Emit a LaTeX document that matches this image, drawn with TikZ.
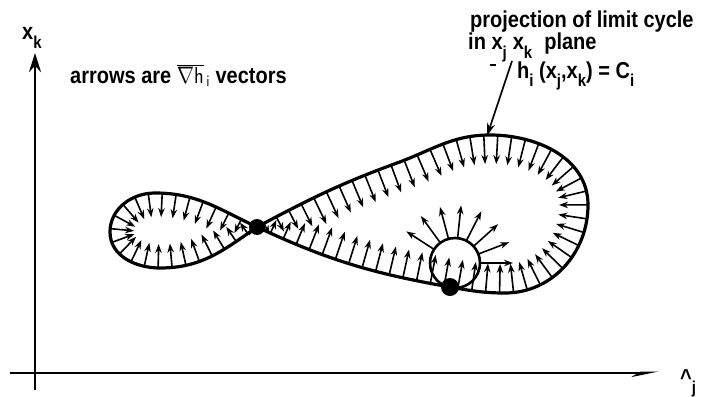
\documentclass[tikz,border=0pt]{standalone}
\usepackage{fontspec}
\setmainfont{Liberation Sans}
\usetikzlibrary{arrows.meta,decorations.markings}
\newcommand\lowidx[1]{\raisebox{-7pt}{\fontsize{15}{15}\selectfont #1}}
\newcommand\tall[1]{\scalebox{1}[1.15]{#1}}

\begin{document}
\begin{tikzpicture}[x=1pt, y=-1pt, >={Stealth[length=9pt,width=6.5pt]},
  lbl/.style={font=\fontsize{20}{24}\selectfont\bfseries, inner sep=0pt, anchor=base west},
  axis/.style={line width=2.6pt},
  curve/.style={line width=3.2pt, line join=round},
  vec/.style={line width=1.6pt, ->},
  inward/.style n args={3}{postaction={decorate, decoration={markings,
    mark=between positions 0.01 and 0.99 step #1 with {
      \pgfmathsetmacro\markdist{\pgfkeysvalueof{/pgf/decoration/mark info/distance from start}}
      \pgfmathsetmacro\veclen{min(#2, 10+0.3*\markdist, 10+0.3*(\pgfdecoratedpathlength-\markdist))}
      \draw[vec] (0,0) -- (0,#3*\veclen);}}}}]
  \useasboundingbox (0,0) rectangle (714,396);
  % axes
  \coordinate (ybot) at (35,390);
  \coordinate (ytop) at (35,53);
  \coordinate (xleft) at (10,373);
  \coordinate (xright) at (658,373);
  \draw[axis, -{Stealth[length=19pt,width=12pt]}] (ybot) -- (ytop);
  \draw[axis, -{Stealth[harpoon,swap,length=20pt,width=8pt]}] (xleft) -- (xright);
  \node[lbl] (xk) at (22,40) {\tall{x\lowidx{k}}};
  \node[lbl] (xj) at (680,385) {\tall{\textasciicircum\lowidx{j}}};
  % labels
  \node[lbl] (note) at (70,83) {\tall{arrows are {\mdseries$\overline{\nabla\mathsf{h}}_{\,\mathsf{i}}$} vectors}};
  \node[lbl] (proj1) at (470,28) {\tall{projection of limit cycle}};
  \node[lbl] (proj2) at (468,50) {\tall{in x\lowidx{j}\hspace{6pt}x\lowidx{k}\hspace{12pt}plane}};
  \node[lbl] (proj3) at (517,78) {\tall{h\lowidx{i} (x\lowidx{j},x\lowidx{k}) = C\lowidx{i}}};
  % limit cycle: right lobe clockwise, left lobe counterclockwise
  \coordinate (cross) at (257,227);
  \coordinate (up) at (397,163);
  \coordinate (top) at (490,135);
  \coordinate (east) at (588,205);
  \coordinate (south) at (505,293);
  \coordinate (touch) at (450,287);
  \coordinate (ltop) at (155,193);
  \coordinate (west) at (110,232);
  \coordinate (lbot) at (160,268);
  \draw[curve, inward={14pt}{29}{1}] (cross) to[out=28,in=200] (up) to[out=20,in=180] (top)
    to[out=0,in=90] (east) to[out=-90,in=0] (south) to[out=180,in=-10] (touch)
    to[out=170,in=-25] (cross);
  \draw[curve, inward={14pt}{24}{-1}] (cross) to[out=155,in=0] (ltop) to[out=180,in=90] (west)
    to[out=-90,in=180] (lbot) to[out=0,in=215] (cross);
  % small cycle with outward vectors
  \coordinate (ring) at (455,263);
  \draw[line width=2.6pt] (ring) circle (25);
  \foreach \a in {0,21,...,147}
    \draw[vec] ([shift={(\a:25pt)}]ring) -- ([shift={(\a:58pt)}]ring);
  \fill (cross) circle (8);
  \fill (touch) circle (9);
  % pointer to the cycle
  \coordinate (tail) at (512,61);
  \coordinate (hit) at (487,136);
  \draw[line width=1.6pt, -{Stealth[length=13pt,width=8pt]}] (tail) -- (hit);
  \draw[line width=1.2pt] (490,65) -- (496,65);
\end{tikzpicture}
\end{document}
